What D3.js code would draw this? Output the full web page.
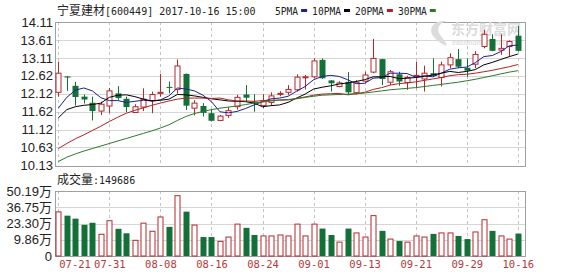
<!DOCTYPE html>
<html>
<head>
<meta charset="utf-8">
<script src="https://cdn.jsdelivr.net/npm/d3@7"></script>
<style>
  body { margin: 0; background: #fff; }
  svg { display: block; }
</style>
</head>
<body>
<script>
// ---- data ----
const dates = ["07-21","07-24","07-25","07-26","07-27","07-28","07-31","08-01","08-02","08-03",
  "08-04","08-07","08-08","08-09","08-10","08-11","08-14","08-15","08-16","08-17",
  "08-18","08-21","08-22","08-23","08-24","08-25","08-28","08-29","08-30","08-31",
  "09-01","09-06","09-07","09-08","09-11","09-12","09-13","09-14","09-15","09-18",
  "09-19","09-20","09-21","09-22","09-25","09-26","09-27","09-28","09-29","10-09",
  "10-10","10-11","10-12","10-13","10-16"]

const open = [12.16,12.60,12.34,12.04,11.87,11.64,11.78,12.13,11.98,11.60,
  11.75,11.93,12.13,12.31,12.24,12.67,11.72,11.78,11.58,11.38,
  11.52,11.76,12.10,11.90,11.79,11.88,12.11,12.16,12.23,12.57,
  12.59,13.06,12.49,12.32,12.45,12.15,12.47,12.72,13.08,12.44,
  12.66,12.43,12.61,12.53,12.69,12.57,12.92,13.08,12.84,12.94,
  13.43,13.64,13.33,13.43,13.73]
const close = [12.69,12.57,12.03,11.96,11.64,11.83,12.20,12.00,11.75,11.76,
  11.97,12.10,12.16,12.29,12.89,11.79,11.86,11.59,11.37,11.50,
  11.65,12.02,12.01,11.88,11.92,12.06,12.13,12.24,12.58,12.59,
  13.03,12.55,12.41,12.42,12.16,12.44,12.64,13.10,12.53,12.73,
  12.46,12.57,12.63,12.69,12.62,12.92,13.12,12.87,12.76,13.21,
  13.77,13.31,13.38,13.57,13.31]
const high = [13.01,12.61,12.45,12.10,12.04,11.90,12.28,12.33,12.04,11.83,
  12.27,12.18,12.67,12.46,13.07,12.68,11.94,11.86,11.69,11.53,
  11.75,12.09,12.36,12.11,12.11,12.16,12.19,12.36,12.66,12.64,
  13.10,13.10,12.50,12.47,12.72,12.50,12.73,13.64,13.09,12.78,
  12.73,12.62,13.01,12.90,13.10,13.01,13.24,13.36,13.10,13.30,
  13.89,13.77,13.77,13.60,14.00]
const low = [12.04,12.20,11.79,11.85,11.38,11.53,11.58,11.95,11.61,11.59,
  11.64,11.58,12.04,12.13,12.12,11.67,11.52,11.49,11.35,11.36,
  11.45,11.68,11.89,11.62,11.72,11.81,12.05,12.09,12.18,12.24,
  12.55,12.53,12.18,12.30,12.09,12.10,12.41,12.69,12.36,12.36,
  12.34,12.23,12.27,12.18,12.58,12.32,12.83,12.83,12.59,12.83,
  13.38,13.30,13.20,13.15,13.29]

// volume in 万 shares
const volume = [32.9,29.8,27.3,22.2,23.9,14.4,25.6,18.9,15.2,9.4,
  23.6,16.9,28.7,20.5,46.3,33.1,22.0,12.1,12.1,8.5,
  12.1,22.8,19.7,13.8,13.0,13.0,13.8,13.0,22.8,13.0,
  22.8,19.1,13.8,7.9,19.1,15.5,12.1,29.8,17.2,10.4,
  8.8,7.9,13.0,12.1,14.7,15.5,15.5,13.0,10.4,16.3,
  26.4,17.2,13.0,10.4,14.9686]

const ma5 = [11.72,12.02,12.22,12.28,12.20,12.01,11.93,11.93,11.88,11.91,
  11.94,11.92,11.95,12.06,12.28,12.25,12.20,12.08,11.90,11.62,
  11.59,11.63,11.71,11.81,11.90,11.98,12.00,12.05,12.19,12.32,
  12.51,12.60,12.63,12.60,12.51,12.40,12.41,12.55,12.57,12.69,
  12.69,12.68,12.58,12.62,12.59,12.69,12.80,12.84,12.86,12.98,
  13.15,13.18,13.29,13.45,13.47]
const ma10 = [11.45,11.68,11.76,11.80,11.82,11.86,12.02,12.08,12.09,12.04,
  11.97,11.92,11.94,11.97,12.10,12.09,12.06,12.02,11.98,11.95,
  11.92,11.91,11.90,11.86,11.76,11.79,11.81,11.88,12.00,12.11,
  12.25,12.30,12.34,12.39,12.42,12.46,12.51,12.59,12.59,12.60,
  12.54,12.55,12.57,12.60,12.64,12.69,12.74,12.71,12.74,12.79,
  12.92,12.99,13.07,13.15,13.22]
const ma20 = [10.60,10.74,10.87,10.98,11.10,11.22,11.35,11.47,11.58,11.66,
  11.73,11.80,11.86,11.92,11.97,12.00,12.00,12.00,11.99,12.00,
  11.95,11.92,11.92,11.91,11.93,11.94,11.94,11.95,11.99,12.03,
  12.08,12.11,12.12,12.13,12.09,12.12,12.16,12.24,12.29,12.36,
  12.40,12.42,12.45,12.49,12.53,12.57,12.62,12.65,12.66,12.69,
  12.73,12.77,12.82,12.87,12.93]
const ma30 = [10.24,10.36,10.45,10.53,10.60,10.67,10.74,10.81,10.88,10.95,
  11.02,11.09,11.17,11.26,11.38,11.49,11.57,11.63,11.68,11.72,
  11.75,11.78,11.82,11.86,11.89,11.92,11.95,11.96,11.98,12.02,
  12.05,12.08,12.09,12.10,12.11,12.12,12.14,12.17,12.20,12.23,
  12.25,12.27,12.29,12.32,12.35,12.38,12.41,12.44,12.48,12.52,
  12.57,12.62,12.67,12.72,12.76]

const priceTicks = [10.13, 10.63, 11.12, 11.62, 12.12, 12.62, 13.11, 13.61, 14.11]
const volBase = -3.59   // the volume axis bottom (labelled 0) sits below zero
const volTicks = [volBase, 9.86, 23.30, 36.75, 50.19]
const volTickLabels = ["0", "9.86万", "23.30万", "36.75万", "50.19万"]
const tickDates = ["07-21","07-31","08-08","08-16","08-24","09-01","09-13","09-21","09-29","10-16"]

const maNames = ["5PMA", "10PMA", "20PMA", "30PMA"]
const maColors = ["#1f1f8f", "#000000", "#b22222", "#2b7a2b"]
const maSeries = [ma5, ma10, ma20, ma30]

// ---- layout ----
const W = 578, H = 276
const left = 55, right = 525
const pTop = 22, pBottom = 165.5
const vTop = 191, vBottom = 256
const RED = "#b8272a", GREEN = "#137039"
const MONO = "'DejaVu Sans Mono', monospace"
const CJK = "'Noto Sans CJK SC', sans-serif"

const svg = d3.select("body").append("svg")
  .attr("width", W).attr("height", H)
  .style("font-family", "'Liberation Sans', Arial, sans-serif")

const x = d3.scalePoint().domain(dates).range([58.3, 517.8])
const y = d3.scaleLinear().domain([priceTicks[0], priceTicks[priceTicks.length - 1]]).range([pBottom, pTop])
const yv = d3.scaleLinear().domain([volTicks[0], volTicks[volTicks.length - 1]]).range([vBottom, vTop])

const px = d => Math.round(x(d)) + 0.5

// ---- grids ----
function drawGrid(scale, ticks, top, bottom) {
  const g = svg.append("g")
  g.selectAll("line.h").data(ticks).join("line")
    .attr("x1", left).attr("x2", right)
    .attr("y1", d => Math.round(scale(d)) + 0.5)
    .attr("y2", d => Math.round(scale(d)) + 0.5)
    .attr("stroke", "#d6d6d6")
  g.selectAll("line.v").data(tickDates).join("line")
    .attr("x1", d => px(d)).attr("x2", d => px(d))
    .attr("y1", top).attr("y2", bottom)
    .attr("stroke", "#c4c4c4")
    .attr("stroke-dasharray", "3,3")
  g.append("rect")
    .attr("x", left + 0.5).attr("y", top + 0.5)
    .attr("width", right - left).attr("height", bottom - top)
    .attr("fill", "none").attr("stroke", "#a0a0a0")
}
drawGrid(y, priceTicks, pTop, Math.round(pBottom))
drawGrid(yv, volTicks, vTop, vBottom)

// ---- watermark ----
const wm = svg.append("g").attr("fill", "#dcdcdc")
wm.append("path")
  .attr("d", "M433,36 C428,28 434,20 446,21 C438,24 436,30 441,36 C444,40 446,42 447,46 C441,44 436,40 433,36 Z")
wm.append("text").attr("x", 451).attr("y", 34)
  .style("font-family", CJK)
  .style("font-size", "14px").style("font-weight", "bold")
  .text("东方财富网")
wm.append("text").attr("x", 452).attr("y", 45)
  .style("font-size", "7px").style("font-weight", "bold")
  .attr("fill", "#e2e2e2")
  .text("eastmoney.com")

// ---- y axes ----
const pAxis = svg.append("g")
  .attr("transform", `translate(${left - 1},0)`)
  .call(d3.axisLeft(y).tickValues(priceTicks).tickSize(0).tickPadding(1).tickFormat(d3.format(".2f")))
pAxis.select(".domain").remove()
pAxis.selectAll("text").style("font-size", "13px").attr("fill", "#222")

const vAxis = svg.append("g")
  .attr("transform", `translate(${left - 3},0)`)
  .call(d3.axisLeft(yv).tickValues(volTicks).tickSize(0).tickPadding(0)
    .tickFormat((d, i) => volTickLabels[i]))
vAxis.select(".domain").remove()
vAxis.selectAll("text").style("font-size", "13px").attr("fill", "#222")
  .style("font-family", "'Liberation Sans', 'Noto Sans CJK SC', sans-serif")

// ---- x axis (dates) ----
const xAxis = svg.append("g")
  .attr("transform", `translate(0,${vBottom})`)
  .call(d3.axisBottom(x).tickValues(tickDates).tickSize(0).tickPadding(5))
xAxis.select(".domain").remove()
xAxis.selectAll("text")
  .style("font-family", MONO)
  .style("font-size", "10.5px")
  .attr("fill", "#b33a3a")
  .attr("text-anchor", (d, i) => i === 0 ? "start" : "middle")
  .attr("x", (d, i) => i === 0 ? 0.5 : 0)

// ---- candles ----
const rise = i => close[i] >= open[i]
const candles = svg.append("g").selectAll("g").data(dates).join("g")
candles.append("line")
  .attr("x1", d => px(d)).attr("x2", d => px(d))
  .attr("y1", (d, i) => y(high[i])).attr("y2", (d, i) => y(low[i]))
  .attr("stroke", (d, i) => rise(i) ? RED : GREEN)
candles.append("rect")
  .attr("x", (d, i) => rise(i) ? px(d) - 2.5 : px(d) - 3)
  .attr("width", (d, i) => rise(i) ? 5 : 6)
  .attr("y", (d, i) => y(Math.max(open[i], close[i])))
  .attr("height", (d, i) => Math.max(1, Math.abs(y(open[i]) - y(close[i]))))
  .attr("fill", (d, i) => rise(i) ? "#fff" : GREEN)
  .attr("stroke", (d, i) => rise(i) ? RED : "none")

// ---- moving averages ----
maSeries.forEach((s, k) => {
  svg.append("path")
    .datum(s)
    .attr("fill", "none")
    .attr("stroke", maColors[k])
    .attr("stroke-width", 1)
    .attr("d", d3.line().x((d, i) => x(dates[i])).y(d => y(d)))
})

// ---- volume bars ----
svg.append("g").selectAll("rect").data(dates).join("rect")
  .attr("x", (d, i) => rise(i) ? px(d) - 2.5 : px(d) - 3)
  .attr("width", (d, i) => rise(i) ? 5 : 6)
  .attr("y", (d, i) => yv(volume[i]))
  .attr("height", (d, i) => vBottom - yv(volume[i]))
  .attr("fill", (d, i) => rise(i) ? "#fff" : GREEN)
  .attr("stroke", (d, i) => rise(i) ? RED : "none")

// ---- title & legend ----
const title = svg.append("text").attr("x", 57).attr("y", 15)
  .attr("fill", "#222").style("font-size", "12px")
title.append("tspan").style("font-family", CJK).text("宁夏建材")
title.append("tspan").style("font-family", MONO).style("font-size", "10px")
  .text("[600449] 2017-10-16 15:00")

let lx = 275
maNames.forEach((name, k) => {
  const item = svg.append("text").attr("x", lx).attr("y", 15)
    .attr("fill", "#222")
    .style("font-family", MONO).style("font-size", "9.6px")
    .text(name)
  const w = item.node().getComputedTextLength()
  svg.append("rect").attr("x", lx + w + 3).attr("y", 9).attr("width", 6).attr("height", 3)
    .attr("fill", maColors[k])
  lx += w + 3 + 6 + 5
})

const vTitle = svg.append("text").attr("x", 57).attr("y", 184)
  .attr("fill", "#222").style("font-size", "12px")
vTitle.append("tspan").style("font-family", CJK).text("成交量")
vTitle.append("tspan").style("font-family", MONO).style("font-size", "10px")
  .text(":" + Math.round(volume[volume.length - 1] * 10000))
</script>
</body>
</html>
